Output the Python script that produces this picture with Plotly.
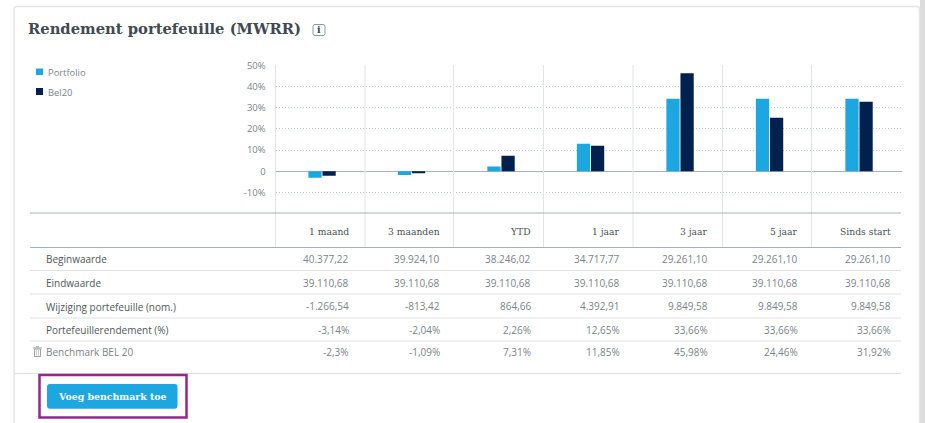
import plotly.graph_objects as go

W, H = 925, 423

TITLE = "Rendement portefeuille (MWRR)"
periods = ["1 maand", "3 maanden", "YTD", "1 jaar", "3 jaar", "5 jaar", "Sinds start"]
portfolio = [-3.1, -1.8, 2.2, 13.0, 34.3, 34.3, 34.3]
bel20 = [-2.1, -1.0, 7.3, 12.1, 46.3, 25.3, 32.8]
y_ticks = [-10, 0, 10, 20, 30, 40, 50]
y_labels = ["-10%", "0", "10%", "20%", "30%", "40%", "50%"]

row_names = ["Beginwaarde", "Eindwaarde", "Wijziging portefeuille (nom.)",
             "Portefeuillerendement (%)", "Benchmark BEL 20"]
begin = ["40.377,22", "39.924,10", "38.246,02", "34.717,77", "29.261,10", "29.261,10", "29.261,10"]
eind = ["39.110,68"] * 7
wijz = ["-1.266,54", "-813,42", "864,66", "4.392,91", "9.849,58", "9.849,58", "9.849,58"]
rend = ["-3,14%", "-2,04%", "2,26%", "12,65%", "33,66%", "33,66%", "33,66%"]
bench = ["-2,3%", "-1,09%", "7,31%", "11,85%", "45,98%", "24,46%", "31,92%"]
button_label = "Voeg benchmark toe"

BLUE, NAVY = "#1ca7e0", "#00204d"
SLAB = "DejaVu Serif"
SANS = "Open Sans"


def px(x):
    return x / W


def py(y):
    return 1 - y / H


def rect(x0, y0, x1, y1, fill=None, line=None, lw=0):
    return dict(type="rect", xref="paper", yref="paper", x0=px(x0), x1=px(x1), y0=py(y1), y1=py(y0),
                fillcolor=fill or "rgba(0,0,0,0)", line=dict(color=line or "rgba(0,0,0,0)", width=lw))


def seg(x0, y0, x1, y1, color, lw=1):
    return dict(type="line", xref="paper", yref="paper", x0=px(x0), x1=px(x1), y0=py(y0), y1=py(y1),
                line=dict(color=color, width=lw))


def rounded(x0, y0, x1, y1, r, fill=None, line=None, lw=0):
    X = lambda v: px(v)
    Y = lambda v: py(v)
    p = (f"M {X(x0+r)} {Y(y0)} L {X(x1-r)} {Y(y0)} Q {X(x1)} {Y(y0)} {X(x1)} {Y(y0+r)} "
         f"L {X(x1)} {Y(y1-r)} Q {X(x1)} {Y(y1)} {X(x1-r)} {Y(y1)} L {X(x0+r)} {Y(y1)} "
         f"Q {X(x0)} {Y(y1)} {X(x0)} {Y(y1-r)} L {X(x0)} {Y(y0+r)} Q {X(x0)} {Y(y0)} {X(x0+r)} {Y(y0)} Z")
    return dict(type="path", xref="paper", yref="paper", path=p,
                fillcolor=fill or "rgba(0,0,0,0)", line=dict(color=line or "rgba(0,0,0,0)", width=lw))


def text(x, y, s, size=10, color="#4f565c", family=SANS, anchor="left", bold=False):
    if bold:
        s = f"<b>{s}</b>"
    nudge = {"left": -1.5, "right": 0.7, "center": 0}[anchor]
    return dict(xref="paper", yref="paper", x=px(x + nudge), y=py(y), text=s, showarrow=False,
                xanchor=anchor, yanchor="middle", align=anchor,
                font=dict(size=size, color=color, family=family), borderpad=0)


PLOT_L, PLOT_R, PLOT_T, PLOT_B = 275.5, 902, 65.5, 213.5

fig = go.Figure()
fig.add_bar(x=periods, y=portfolio, name="Portfolio", marker=dict(color=BLUE, line_width=0), showlegend=False)
fig.add_bar(x=periods, y=bel20, name="Bel20", marker=dict(color=NAVY, line_width=0), showlegend=False)

shapes = [
    rect(920, 0, 925, H, fill="#dcdcdc"),
    rounded(14, 6.5, 919.5, H + 8, 3, fill="rgba(0,0,0,0)", line="#e3e5e7", lw=1.5),
]

# column separators
col_x = [275.5, 365, 453.5, 543.5, 633, 722.5, 811.5]
for c in col_x:
    shapes.append(seg(c, 65, c, 247.5, "#e2e4e6", 1))

# table rules
shapes.append(seg(30, 213, 901, 213, "#a9b1b8", 1))
shapes.append(seg(30, 247.5, 901, 247.5, "#a9b1b8", 1))
for yy in (270.5, 294, 318, 341):
    shapes.append(seg(30, yy, 901, yy, "#dfe1e3", 1))
shapes.append(seg(14, 373.5, 901, 373.5, "#dfe1e3", 1))

# legend swatches
shapes.append(rect(36, 68.5, 43, 75, fill=BLUE))
shapes.append(rect(36, 88, 43, 95, fill=NAVY))

# info icon
shapes.append(rounded(313, 24.5, 325, 35.5, 2, line="#8a98a1", lw=1))

# trash icon
shapes += [
    rect(34.5, 349, 40.5, 356.5, line="#9aa1a6", lw=1),
    seg(33, 348, 42, 348, "#9aa1a6", 1),
    seg(36, 346.8, 39, 346.8, "#9aa1a6", 1),
    seg(36.5, 350, 36.5, 355.5, "#b5babe", 0.8),
    seg(38.5, 350, 38.5, 355.5, "#b5babe", 0.8),
]

# button and highlight
shapes.append(rounded(47, 384, 177.5, 408.7, 3, fill=BLUE))
shapes.append(rect(39.5, 375, 186.5, 417.5, line="#93278f", lw=2.5))

ann = [
    text(28, 28.5, TITLE, size=14.75, color="#3f4a52", family=SLAB, bold=True),
    text(319, 30, "i", size=9.5, color="#3a444c", family=SLAB, anchor="center", bold=True),
    text(48.8, 72, "Portfolio", size=9.4, color="#7b838a"),
    text(48.8, 92.5, "Bel20", size=9.4, color="#7b838a"),
    text(112, 396, button_label, size=9.4, color="#ffffff", family=SLAB, anchor="center", bold=True),
]

right_edges = [349, 440, 531, 620, 708, 798, 891]
for re_, p in zip(right_edges, periods):
    ann.append(text(re_, 231, p, size=9.2, color="#4a5056", family=SLAB, anchor="right"))

row_y = [259, 283, 306.5, 330, 352]
rows = [begin, eind, wijz, rend, bench]
for i, (name, vals, yy) in enumerate(zip(row_names, rows, row_y)):
    ann.append(text(46.5, yy, name, size=10, color="#7b838a" if i == 4 else "#4f565c"))
    for re_, v in zip(right_edges, vals):
        ann.append(text(re_, yy - (0.5 if i >= 2 else 0), v, size=10, color="#7b838a", anchor="right"))

fig.update_layout(
    width=W, height=H, autosize=False,
    margin=dict(l=0, r=0, t=0, b=0, pad=0),
    paper_bgcolor="#ffffff", plot_bgcolor="rgba(0,0,0,0)",
    barmode="group", bargap=0.685, bargroupgap=0.06,
    showlegend=False,
    shapes=shapes, annotations=ann,
    font=dict(family=SANS),
    xaxis=dict(domain=[px(PLOT_L), px(PLOT_R)], type="category", categoryorder="array",
               categoryarray=periods, range=[-0.52, 6.48], showticklabels=False, showgrid=False,
               zeroline=False, ticks="", fixedrange=True, automargin=False),
    yaxis=dict(domain=[py(PLOT_B), py(PLOT_T)], range=[-20, 50], tickmode="array", automargin=False,
               tickvals=y_ticks, ticktext=y_labels, showgrid=True, gridcolor="#bcc8cf", griddash="1px,2px",
               gridwidth=1, zeroline=True, zerolinecolor="#a9b1b8", zerolinewidth=1, showline=False,
               ticks="outside", ticklen=7, tickcolor="rgba(0,0,0,0)",
               tickfont=dict(size=9.5, color="#7b838a", family=SANS), fixedrange=True),
)

fig.write_html("out.html", config=dict(displayModeBar=False),
               post_script="document.body.style.margin='0';document.body.style.overflow='hidden';")
